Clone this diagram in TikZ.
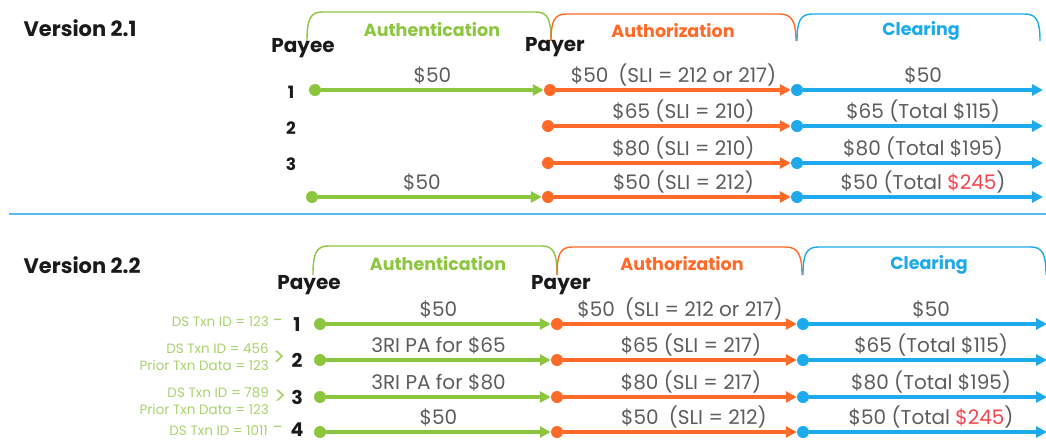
\documentclass[tikz,border=0pt]{standalone}
\usepackage{fontspec}
\setmainfont{Poppins}
\usetikzlibrary{arrows.meta}
\definecolor{authgreen}{HTML}{8CC63F}
\definecolor{authorange}{HTML}{FF6A28}
\definecolor{clearblue}{HTML}{1CAAEC}
\definecolor{sepblue}{HTML}{5AB8EE}
\definecolor{txtgrey}{HTML}{5C5C5C}
\definecolor{idgreen}{HTML}{A8D26E}
\definecolor{totalred}{HTML}{F2464F}
\definecolor{ink}{HTML}{1A1A1A}

\begin{document}
\begin{tikzpicture}[x=1pt,y=-1pt,
  dot/.style={circle, inner sep=0pt, minimum size=12pt, fill=#1},
  flow/.style={line width=3.3pt, draw=#1, -{Triangle[length=11pt,width=11pt]}},
  lbl/.style={above, inner sep=1pt, text depth=5pt, text=txtgrey, font=\fontsize{20}{22}\selectfont},
  phase/.style={font=\bfseries\fontsize{17.5}{19}\selectfont, text=#1},
  bracket/.style={line width=1.4pt, draw=#1},
  title/.style={anchor=west, text=ink, font=\bfseries\fontsize{21}{23}\selectfont},
  party/.style={text=ink, font=\bfseries\fontsize{20}{22}\selectfont},
  num/.style={inner sep=0pt, text=ink, font=\bfseries\fontsize{#1}{20}\selectfont},
  dsid/.style={anchor=east, align=right, inner sep=0pt, text=idgreen, font=\fontsize{13.5}{17.5}\selectfont},
  linkmark/.style={inner sep=0pt, text=idgreen, font=\fontsize{#1}{20}\selectfont}
]
\useasboundingbox (0,0) rectangle (1046,440);

% ---------------- Version 2.1 ----------------
\node[title] (v21) at (20,28) {Version 2.1};

% phase brackets
\draw[bracket=authgreen] (307,41) .. controls (307,20) and (310,12) .. (322,12)
  -- (536,12) .. controls (548,12) and (551,20) .. (551,41);
\draw[bracket=authorange] (551,41) .. controls (551,22) and (554,14) .. (566,14)
  -- (780,14) .. controls (792,14) and (796,22) .. (796,41);
\draw[bracket=clearblue] (797,41) .. controls (797,22) and (800,14) .. (812,14)
  -- (1025,14) .. controls (1037,14) and (1040,22) .. (1040,41);
\node[phase=authgreen]  (a21) at (432,30) {Authentication};
\node[phase=authorange] (z21) at (673,31) {Authorization};
\node[phase=clearblue]  (c21) at (921,31) {Clearing};

\node[party] (pe21) at (303,48) {Payee};
\node[party] (pr21) at (555,47) {Payer};

\node[num=17] (n211) at (291,92) {1};
\node[num=17] (n212) at (291,128) {2};
\node[num=17] (n213) at (291,164) {3};

% row dots
\node[dot=authgreen]  (g211) at (315,90) {};
\node[dot=authorange] (o211) at (550,90) {};
\node[dot=clearblue]  (b211) at (797,90) {};
\coordinate (e211) at (1043,90);
\node[dot=authorange] (o212) at (548,126) {};
\node[dot=clearblue]  (b212) at (797,126) {};
\coordinate (e212) at (1043,126);
\node[dot=authorange] (o213) at (548,163) {};
\node[dot=clearblue]  (b213) at (797,163) {};
\coordinate (e213) at (1043,163);
\node[dot=authgreen]  (g214) at (312,197) {};
\node[dot=authorange] (o214) at (548,197) {};
\node[dot=clearblue]  (b214) at (797,197) {};
\coordinate (e214) at (1043,197);

% flows
\draw[flow=authgreen]  (g211) -- node[lbl] {\$50} (o211);
\draw[flow=authorange] (o211) -- node[lbl] {\$50\enspace(SLI = 212 or 217)} (b211);
\draw[flow=clearblue]  (b211) -- node[lbl] {\$50} (e211);
\draw[flow=authorange] (o212) -- node[lbl, xshift=11pt] {\$65 (SLI = 210)} (b212);
\draw[flow=clearblue]  (b212) -- node[lbl] {\$65 (Total \$115)} (e212);
\draw[flow=authorange] (o213) -- node[lbl, xshift=11pt] {\$80 (SLI = 210)} (b213);
\draw[flow=clearblue]  (b213) -- node[lbl] {\$80 (Total \$195)} (e213);
\draw[flow=authgreen]  (g214) -- node[lbl, xshift=-8pt] {\$50} (o214);
\draw[flow=authorange] (o214) -- node[lbl, xshift=11pt] {\$50 (SLI = 212)} (b214);
\draw[flow=clearblue]  (b214) -- node[lbl] {\$50 (Total \textcolor{totalred}{\$245})} (e214);

% separator
\coordinate (s0) at (9,214);
\coordinate (s1) at (1046,214);
\draw[sepblue, line width=1.5pt] (s0) -- (s1);

% ---------------- Version 2.2 ----------------
\node[title] (v22) at (20,265) {Version 2.2};

\draw[bracket=authgreen] (313,275) .. controls (313,254) and (316,246) .. (328,246)
  -- (542,246) .. controls (554,246) and (557,254) .. (557,275);
\draw[bracket=authorange] (557,275) .. controls (557,255) and (560,247) .. (572,247)
  -- (786,247) .. controls (798,247) and (802,255) .. (802,275);
\draw[bracket=clearblue] (803,275) .. controls (803,255) and (806,247) .. (818,247)
  -- (1031,247) .. controls (1043,247) and (1046,255) .. (1046,275);
\node[phase=authgreen]  (a22) at (438,264) {Authentication};
\node[phase=authorange] (z22) at (682,264) {Authorization};
\node[phase=clearblue]  (c22) at (929,265) {Clearing};

\node[party] (pe22) at (309,285) {Payee};
\node[party] (pr22) at (561,285) {Payer};

\node[num=19] (n221) at (297,325) {1};
\node[num=19] (n222) at (297,360) {2};
\node[num=19] (n223) at (297,397) {3};
\node[num=19] (n224) at (297,430) {4};

% transaction ids
\node[dsid] (d1) at (269,322) {DS Txn ID = 123};
\node[linkmark=18] (m1) at (278,323) {-};
\node[dsid] (d2) at (269,357) {DS Txn ID = 456\\Prior Txn Data = 123};
\node[linkmark=24] (m2) at (279,358) {>};
\node[dsid] (d3) at (269,401) {DS Txn ID = 789\\Prior Txn Data = 123};
\node[linkmark=24] (m3) at (280,397) {>};
\node[dsid] (d4) at (268,431) {DS Txn ID = 1011};
\node[linkmark=18] (m4) at (278,430) {-};

% row dots
\node[dot=authgreen]  (g221) at (320,324) {};
\node[dot=authorange] (o221) at (557,324) {};
\node[dot=clearblue]  (b221) at (803,324) {};
\coordinate (e221) at (1047,324);
\node[dot=authgreen]  (g222) at (320,360) {};
\node[dot=authorange] (o222) at (557,360) {};
\node[dot=clearblue]  (b222) at (803,360) {};
\coordinate (e222) at (1047,360);
\node[dot=authgreen]  (g223) at (320,397) {};
\node[dot=authorange] (o223) at (557,397) {};
\node[dot=clearblue]  (b223) at (803,397) {};
\coordinate (e223) at (1047,397);
\node[dot=authgreen]  (g224) at (320,432) {};
\node[dot=authorange] (o224) at (557,432) {};
\node[dot=clearblue]  (b224) at (803,432) {};
\coordinate (e224) at (1047,432);

% flows
\draw[flow=authgreen]  (g221) -- node[lbl] {\$50} (o221);
\draw[flow=authorange] (o221) -- node[lbl] {\$50\enspace(SLI = 212 or 217)} (b221);
\draw[flow=clearblue]  (b221) -- node[lbl, xshift=3pt] {\$50} (e221);
\draw[flow=authgreen]  (g222) -- node[lbl] {3RI PA for \$65} (o222);
\draw[flow=authorange] (o222) -- node[lbl, xshift=11pt] {\$65 (SLI = 217)} (b222);
\draw[flow=clearblue]  (b222) -- node[lbl, xshift=3pt] {\$65 (Total \$115)} (e222);
\draw[flow=authgreen]  (g223) -- node[lbl] {3RI PA for \$80} (o223);
\draw[flow=authorange] (o223) -- node[lbl, xshift=11pt] {\$80 (SLI = 217)} (b223);
\draw[flow=clearblue]  (b223) -- node[lbl, xshift=3pt] {\$80 (Total \$195)} (e223);
\draw[flow=authgreen]  (g224) -- node[lbl] {\$50} (o224);
\draw[flow=authorange] (o224) -- node[lbl, xshift=14pt] {\$50\enspace(SLI = 212)} (b224);
\draw[flow=clearblue]  (b224) -- node[lbl, xshift=3pt] {\$50 (Total \textcolor{totalred}{\$245})} (e224);
\end{tikzpicture}
\end{document}
